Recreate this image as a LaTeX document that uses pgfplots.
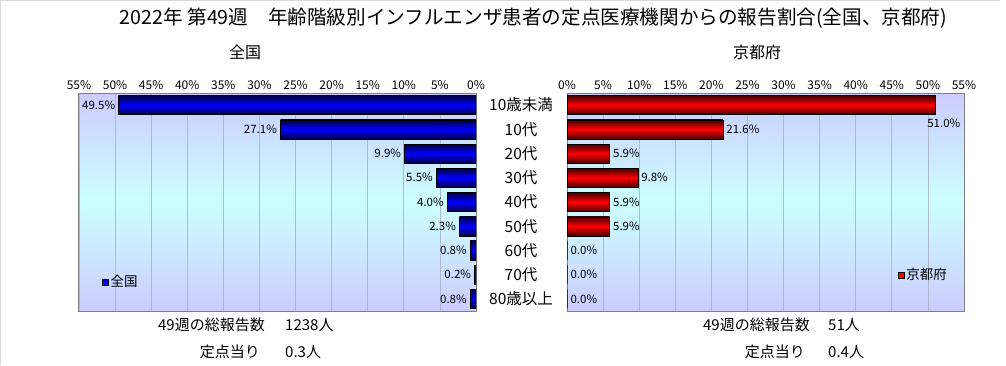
\documentclass[border=0pt]{standalone}
\usepackage{pgfplots}
\pgfplotsset{compat=1.18}
\usepackage{fontspec}
\setmainfont{Noto Sans CJK JP}

\definecolor{bgA}{RGB}{204,204,255}
\definecolor{bgB}{RGB}{204,255,255}
\definecolor{gridc}{RGB}{175,185,205}
\definecolor{bdark}{RGB}{0,0,70}
\definecolor{rdark}{RGB}{70,0,0}

\pgfplotsset{
  common/.style={
    scale only axis, width=397pt, height=218pt,
    xmin=0, xmax=55, ymin=-0.5, ymax=8.5, y dir=reverse,
    xtick={0,5,...,55},
    xticklabel={\pgfmathprintnumber{\tick}\%},
    xticklabel pos=upper,
    ytick={0,...,8},
    xmajorgrids, grid style={gridc, line width=0.8pt},
    axis line style={gray, line width=1pt},
    major tick length=0pt,
    axis background/.style={shade, top color=bgA, bottom color=bgA, middle color=bgB},
    tick label style={font=\fontsize{12}{13}\selectfont},
    /pgf/number format/assume math mode=true,
    legend style={draw=none, fill=none, font=\fontsize{13.5}{14}\selectfont, inner sep=0pt},
    legend cell align=left,
  },
  lbar/.style={xbar, bar width=19pt, draw=black, top color=bdark, bottom color=bdark, middle color=blue, forget plot,
    nodes near coords={\pgfmathprintnumber[fixed,fixed zerofill,precision=1]{\pgfplotspointmeta}\%},
    every node near coord/.append style={anchor=east, text=black, font=\fontsize{11.5}{12}\selectfont},
    point meta=x},
  rbar/.style={xbar, bar width=19pt, draw=black, top color=rdark, bottom color=rdark, middle color=red, forget plot,
    nodes near coords={\pgfmathprintnumber[fixed,fixed zerofill,precision=1]{\pgfplotspointmeta}\%},
    every node near coord/.append style={anchor=west, text=black, font=\fontsize{11.5}{12}\selectfont},
    point meta=x},
}

\begin{document}
\begin{tikzpicture}
\useasboundingbox (0pt,0pt) rectangle (1006pt,365pt);
\draw[gray!30] (0.5pt,0pt) -- (0.5pt,364.5pt) -- (1000pt,364.5pt);

\node[font=\fontsize{19.6}{21}\selectfont] at (533.5pt,347pt) {2022年 第49週　年齢階級別インフルエンザ患者の定点医療機関からの報告割合(全国、京都府)};
\node[font=\fontsize{16}{18}\selectfont] at (245pt,313pt) {全国};
\node[font=\fontsize{16}{18}\selectfont] at (757pt,313pt) {京都府};

\begin{axis}[common, at={(79pt,54pt)}, anchor=south west, x dir=reverse,
  yticklabel pos=right,
  yticklabels={10歳未満,10代,20代,30代,40代,50代,60代,70代,80歳以上},
  yticklabel style={anchor=center, xshift=45pt, font=\fontsize{15.5}{16}\selectfont},
  legend style={at={(0.058,0.133)}, anchor=west},
]
\addplot[lbar] coordinates {(49.5,0)};
\addplot[lbar] coordinates {(27.1,1)};
\addplot[lbar] coordinates {(9.9,2)};
\addplot[lbar] coordinates {(5.5,3)};
\addplot[lbar] coordinates {(4.0,4)};
\addplot[lbar] coordinates {(2.3,5)};
\addplot[lbar] coordinates {(0.8,6)};
\addplot[lbar] coordinates {(0.2,7)};
\addplot[lbar] coordinates {(0.8,8)};
\addlegendimage{legend image code/.code={\draw[fill=blue, draw=black] (0pt,-3pt) rectangle (6pt,3pt);}}
\addlegendentry{全国}
\end{axis}

\begin{axis}[common, at={(567pt,54pt)}, anchor=south west,
  yticklabels={},
  legend style={at={(0.833,0.165)}, anchor=west},
]
\addplot[rbar, nodes near coords={}] coordinates {(51.0,0)};
\addplot[rbar] coordinates {(21.6,1)};
\addplot[rbar] coordinates {(5.9,2)};
\addplot[rbar] coordinates {(9.8,3)};
\addplot[rbar] coordinates {(5.9,4)};
\addplot[rbar] coordinates {(5.9,5)};
\addplot[rbar] coordinates {(0.0,6)};
\addplot[rbar] coordinates {(0.0,7)};
\addplot[rbar] coordinates {(0.0,8)};
\addlegendimage{legend image code/.code={\draw[fill=red, draw=black] (0pt,-3pt) rectangle (6pt,3pt);}}
\addlegendentry{京都府}
\node[font=\fontsize{11.5}{12}\selectfont] at (axis cs:52.2,0.74) {51.0\%};
\end{axis}

\begin{scope}[every node/.style={inner sep=0pt, font=\fontsize{15}{16}\selectfont}]
\node[anchor=east] at (265pt,40pt) {49週の総報告数};
\node[anchor=west] at (285pt,40pt) {1238人};
\node[anchor=east] at (260pt,13pt) {定点当り};
\node[anchor=west] at (285pt,13pt) {0.3人};
\node[anchor=east] at (810pt,40pt) {49週の総報告数};
\node[anchor=west] at (828pt,40pt) {51人};
\node[anchor=east] at (805pt,13pt) {定点当り};
\node[anchor=west] at (828pt,13pt) {0.4人};
\end{scope}
\end{tikzpicture}
\end{document}
